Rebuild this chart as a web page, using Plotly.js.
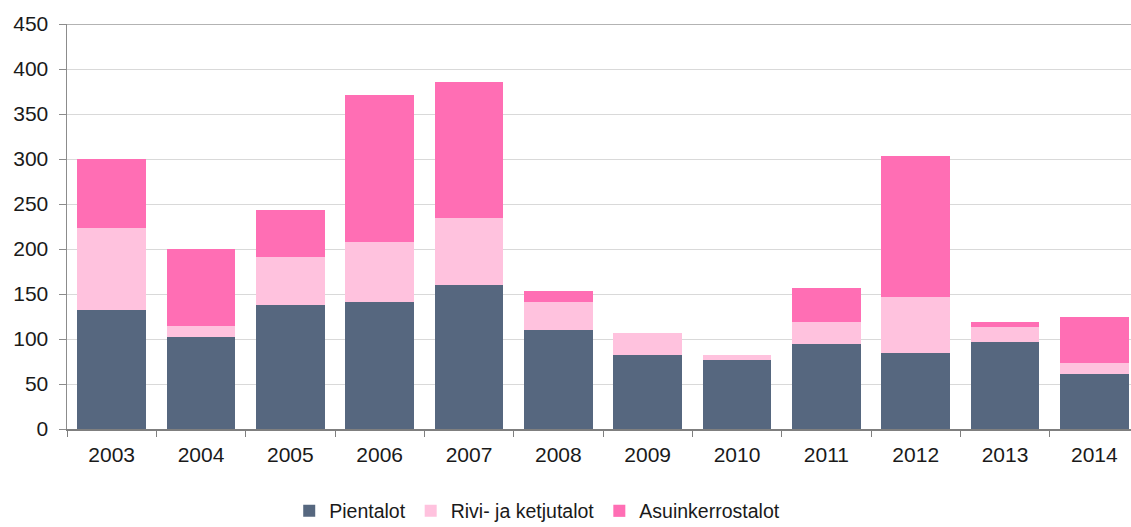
<!DOCTYPE html>
<html>
<head>
<meta charset="utf-8">
<script src="https://cdn.plot.ly/plotly-3.0.1.min.js"></script>
<style>html,body{margin:0;padding:0;background:#fff;}#chart{width:1131px;height:527px;}</style>
</head>
<body>
<div id="chart"></div>
<script>
const years = ["2003","2004","2005","2006","2007","2008","2009","2010","2011","2012","2013","2014"];
const pientalot = [132, 102, 138, 141, 160, 110, 82, 77, 95, 84, 97, 61];
const rivi = [91, 13, 53, 67, 75, 31, 25, 5, 24, 63, 16, 12];
const asuin = [77, 85, 52, 163, 151, 12, 0, 0, 38, 156, 6, 51];
const seriesNames = ["Pientalot", "Rivi- ja ketjutalot", "Asuinkerrostalot"];
const yTicks = [0, 50, 100, 150, 200, 250, 300, 350, 400, 450];

const colors = ["#56677f", "#ffc2de", "#ff6eb4"];
const data = [pientalot, rivi, asuin].map((vals, i) => ({
  type: "bar",
  x: years,
  y: vals,
  name: seriesNames[i],
  marker: {color: colors[i], line: {width: 0}},
  hoverinfo: "x+y+name"
}));

const layout = {
  width: 1131,
  height: 527,
  margin: {l: 67, r: 0, t: 23.5, b: 98, autoexpand: false},
  barmode: "stack",
  bargap: 0.23,
  paper_bgcolor: "#ffffff",
  plot_bgcolor: "#ffffff",
  font: {family: "Liberation Sans, Arial, sans-serif", size: 20, color: "#1a1a1a"},
  xaxis: {
    type: "category",
    range: [-0.5, 11.41],
    showline: true,
    linecolor: "#7f7f7f",
    linewidth: 1.5,
    ticks: "outside",
    tickson: "boundaries",
    ticklen: 6,
    tickcolor: "#7f7f7f",
    showgrid: false,
    ticklabelstandoff: 6,
    tickfont: {size: 21, color: "#1a1a1a"},
    automargin: false,
    fixedrange: true
  },
  yaxis: {
    range: [0, 450],
    tickvals: yTicks,
    ticktext: yTicks.map(String),
    showline: true,
    linecolor: "#8c8c8c",
    linewidth: 1.5,
    ticks: "outside",
    ticklen: 7,
    tickcolor: "#8c8c8c",
    showgrid: true,
    gridcolor: "#d9d9d9",
    gridwidth: 1,
    zeroline: false,
    ticklabelstandoff: 6,
    tickfont: {size: 21, color: "#1a1a1a"},
    automargin: false,
    fixedrange: true
  },
  shapes: [{
    type: "line", xref: "paper", yref: "y", x0: 0, x1: 1, y0: 450, y1: 450,
    line: {color: "#b3b3b3", width: 2}
  }],
  legend: {
    orientation: "h",
    xref: "container", yref: "container",
    x: 0.475, xanchor: "center",
    y: 0.03, yanchor: "middle",
    font: {size: 19.5, color: "#1a1a1a"},
    traceorder: "normal",
    itemwidth: 30
  },
  showlegend: true
};

Plotly.newPlot("chart", data, layout, {displayModeBar: false, staticPlot: true});
</script>
</body>
</html>
